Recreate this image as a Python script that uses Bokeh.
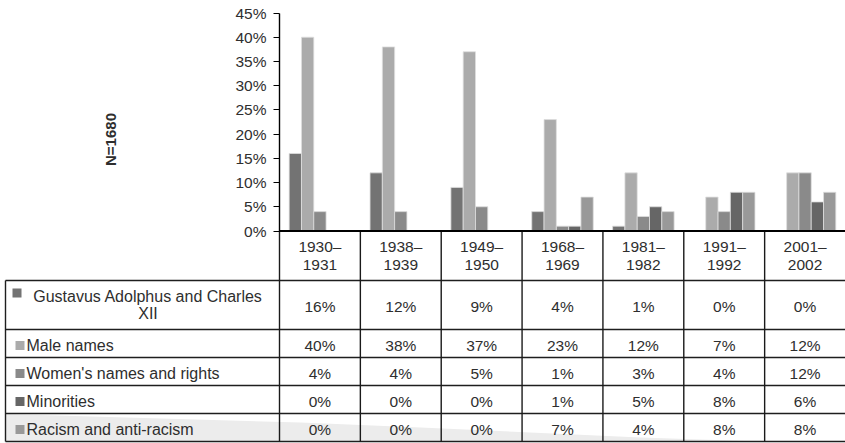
import math
from bokeh.plotting import figure
from bokeh.models import (ColumnDataSource, Range1d, FixedTicker, PrintfTickFormatter)
from bokeh.transform import dodge
from bokeh.core.properties import value
from bokeh.embed import file_html
from bokeh.resources import INLINE

# ---------------- data ----------------
periods = ["1930–1931", "1938–1939", "1949–1950", "1968–1969",
           "1981–1982", "1991–1992", "2001–2002"]
header_top = ["1930–", "1938–", "1949–", "1968–", "1981–", "1991–", "2001–"]
header_bottom = ["1931", "1939", "1950", "1969", "1982", "1992", "2002"]

series_names = ["Gustavus Adolphus and Charles XII", "Male names",
                "Women's names and rights", "Minorities", "Racism and anti-racism"]
gustavus = [16, 12, 9, 4, 1, 0, 0]
male = [40, 38, 37, 23, 12, 7, 12]
women = [4, 4, 5, 1, 3, 4, 12]
minorities = [0, 0, 0, 1, 5, 8, 6]
racism = [0, 0, 0, 7, 4, 8, 8]
series_values = [gustavus, male, women, minorities, racism]
series_colors = ["#737373", "#ababab", "#8a8a8a", "#666666", "#999999"]
y_ticks = [0, 5, 10, 15, 20, 25, 30, 35, 40, 45]
axis_title = "N=1680"

FONT = "Liberation Sans"
TXT = "#2e2e2e"
W, H = 845, 443
LEFT = 279                     # pixel column of the value axis
COLW = (W - LEFT) / len(periods)
BAR_W = 12.3 / COLW
Y0_PX, Y45_PX = 230.5, 12.5    # pixel rows of 0 % and 45 %
PPU = (Y0_PX - Y45_PX) / 45.0


def u(px):
    return (px - LEFT) / COLW


p = figure(width=W, height=H, x_range=Range1d(u(0), len(periods)),
           y_range=Range1d(-(H - Y0_PX) / PPU, Y0_PX / PPU),
           output_backend="svg", toolbar_location=None,
           x_axis_location=None, y_axis_location="left", min_border=0)
p.extra_y_ranges = {"px": Range1d(H, 0)}
p.outline_line_color = None
p.xgrid.visible = False
p.ygrid.visible = False

# ---------------- bars ----------------
src = {"xc": [i + 0.5 for i in range(len(periods))], "period": periods}
for k, vals in enumerate(series_values):
    src[f"s{k}"] = vals
source = ColumnDataSource(src)
for k in range(len(series_values)):
    off = (k - 2) * BAR_W
    p.vbar(x=dodge("xc", off), top=f"s{k}", bottom=0, width=BAR_W, source=source,
           fill_color=series_colors[k], line_color="#dedede", line_width=0.8)

ya = p.yaxis[0]
ya.fixed_location = 0
ya.ticker = FixedTicker(ticks=y_ticks)
ya.formatter = PrintfTickFormatter(format="%d%%")
ya.bounds = (0, 45)
ya.axis_line_color = "black"
ya.axis_line_width = 1.4
ya.major_tick_line_color = "black"
ya.major_tick_in = 0
ya.major_tick_out = 6
ya.minor_tick_line_color = None
ya.major_label_standoff = 7
ya.major_label_text_font = FONT
ya.major_label_text_font_size = "15.5px"
ya.major_label_text_color = TXT

# axis title
p.text(x=[u(110)], y=[139], text=[axis_title], angle=math.pi / 2, y_range_name="px",
       text_align="center", text_baseline="middle", text_font=value(FONT),
       text_font_size="15px", text_font_style="bold", text_color=TXT)

# ---------------- data table ----------------
p.patch(x=[u(5), u(300), u(420), u(640), u(760), u(5)],
        y=[413.5, 422, 427, 437, 441, 441], fill_color="#ececec", line_color=None,
        y_range_name="px")

row_lines = [280, 329, 357, 385, 413, 441]
p.segment(x0=[u(5)] * len(row_lines), y0=row_lines, x1=[len(periods)] * len(row_lines),
          y1=row_lines, line_color="#1e1e1e", line_width=1.4, y_range_name="px")
p.segment(x0=[u(5)], y0=[280], x1=[u(5)], y1=[441], line_color="#1e1e1e",
          line_width=1.4, y_range_name="px")
cols = list(range(0, len(periods)))
p.segment(x0=cols, y0=[Y0_PX] * len(cols), x1=cols, y1=[441] * len(cols),
          line_color="#1a1a1a", line_width=1.4, y_range_name="px")
# baseline of the bars
p.segment(x0=[0], y0=[0], x1=[len(periods)], y1=[0], line_color="black", line_width=2)

centers = [i + 0.5 for i in range(len(periods))]
tkw = dict(text_font=value(FONT), text_font_size="15.5px", text_color=TXT,
           text_baseline="middle", y_range_name="px")
lkw = dict(tkw, text_font_size="16px")
p.text(x=centers, y=[246] * len(periods), text=header_top, text_align="center", **tkw)
p.text(x=centers, y=[264] * len(periods), text=header_bottom, text_align="center", **tkw)

row_y = [306, 345, 373, 401, 429]
for k, vals in enumerate(series_values):
    p.text(x=centers, y=[row_y[k]] * len(vals), text=[f"{v}%" for v in vals],
           text_align="center", **tkw)

# row labels with colour keys
p.scatter(x=[u(16.5)], y=[292.5], marker="square", size=9, fill_color=series_colors[0],
          line_color=None, y_range_name="px")
p.text(x=[u(147.5)], y=[296], text=["Gustavus Adolphus and Charles"], text_align="center", **lkw)
p.text(x=[u(147.5)], y=[313], text=["XII"], text_align="center", **lkw)
p.scatter(x=[u(19.5)] * 4, y=row_y[1:], marker="square", size=9,
          fill_color=series_colors[1:], line_color=None, y_range_name="px")
p.text(x=[u(26)] * 4, y=row_y[1:], text=series_names[1:], text_align="left", **lkw)

open("out.html", "w").write(file_html(p, INLINE))
